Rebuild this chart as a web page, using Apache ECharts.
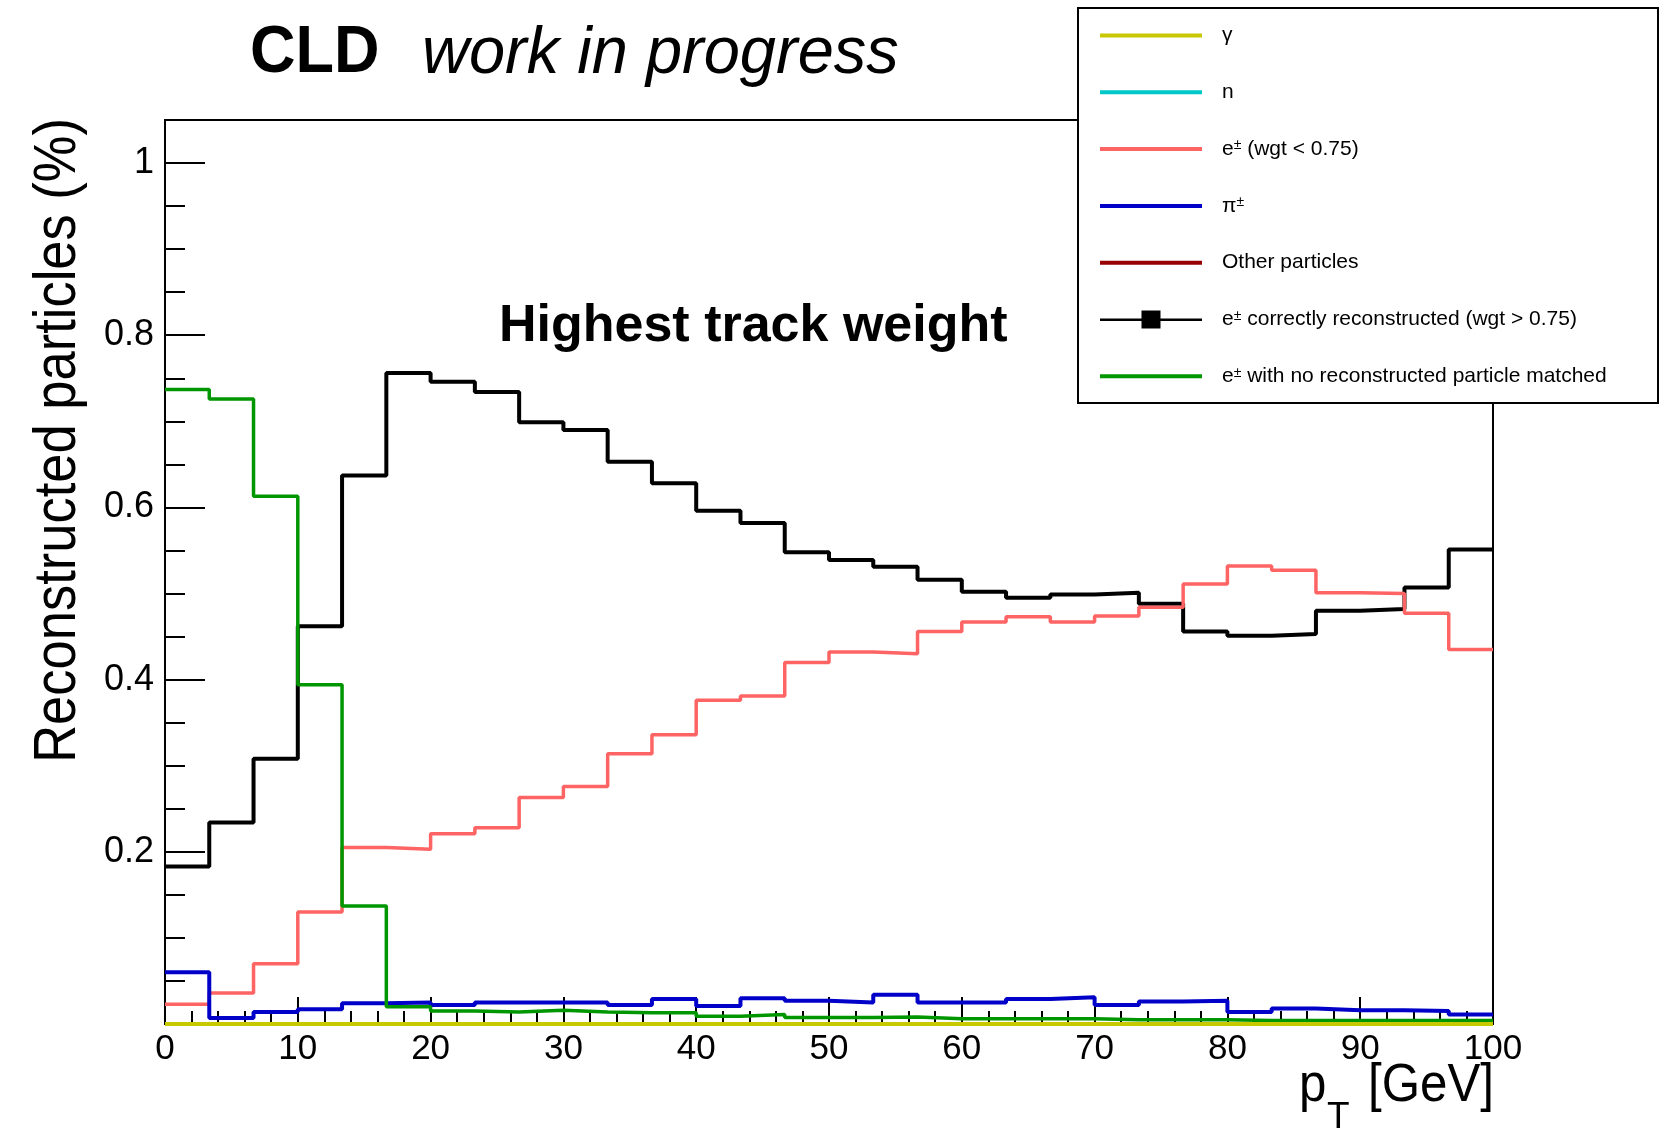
<!DOCTYPE html>
<html><head><meta charset="utf-8">
<script src="https://cdn.jsdelivr.net/npm/echarts@6/dist/echarts.min.js"></script>
<style>html,body{margin:0;padding:0;background:#fff}#c{width:1668px;height:1137px}</style>
</head><body><div id="c"></div>
<script>
// Bin edges in pT [GeV] (30 bins from 0 to 100)
const binEdges = [0, 3.333, 6.667, 10, 13.333, 16.667, 20, 23.333, 26.667, 30, 33.333, 36.667, 40, 43.333, 46.667, 50,
  53.333, 56.667, 60, 63.333, 66.667, 70, 73.333, 76.667, 80, 83.333, 86.667, 90, 93.333, 96.667, 100];
const xTicks = [0, 10, 20, 30, 40, 50, 60, 70, 80, 90, 100];
const yTickLabels = ['0.2', '0.4', '0.6', '0.8', '1'];

const gammaVals = [0,0,0,0,0,0,0,0,0,0,0,0,0,0,0,0,0,0,0,0,0,0,0,0,0,0,0,0,0,0];
const neutronVals = [0,0,0,0,0,0,0,0,0,0,0,0,0,0,0,0,0,0,0,0,0,0,0,0,0,0,0,0,0,0];
const eLowWgtVals = [0.023, 0.036, 0.070, 0.130, 0.205, 0.203, 0.221, 0.228, 0.263, 0.276, 0.314, 0.336, 0.376, 0.381, 0.420,
  0.432, 0.430, 0.456, 0.467, 0.473, 0.467, 0.474, 0.484, 0.511, 0.532, 0.527, 0.501, 0.500, 0.477, 0.435];
const pionVals = [0.060, 0.007, 0.014, 0.017, 0.024, 0.025, 0.022, 0.025, 0.025, 0.025, 0.022, 0.029, 0.021, 0.030, 0.027,
  0.025, 0.034, 0.025, 0.025, 0.029, 0.031, 0.022, 0.026, 0.027, 0.014, 0.018, 0.016, 0.016, 0.015, 0.011];
const otherVals = [0,0,0,0,0,0,0,0,0,0,0,0,0,0,0,0,0,0,0,0,0,0,0,0,0,0,0,0,0,0];
const eCorrectVals = [0.183, 0.234, 0.308, 0.462, 0.637, 0.756, 0.746, 0.734, 0.699, 0.690, 0.653, 0.628, 0.596, 0.582, 0.548,
  0.539, 0.531, 0.516, 0.502, 0.495, 0.499, 0.501, 0.488, 0.456, 0.451, 0.453, 0.480, 0.482, 0.507, 0.551];
const eNoMatchVals = [0.737, 0.726, 0.613, 0.394, 0.137, 0.020, 0.015, 0.014, 0.016, 0.014, 0.013, 0.013, 0.009, 0.011, 0.0075,
  0.0075, 0.008, 0.006, 0.006, 0.006, 0.006, 0.005, 0.005, 0.005, 0.004, 0.004, 0.004, 0.004, 0.004, 0.004];

const seriesNames = ['γ', 'n', 'e± (wgt < 0.75)', 'π±', 'Other particles',
  'e± correctly reconstructed (wgt > 0.75)', 'e± with no reconstructed particle matched'];
const seriesColors = ['#c8c800', '#00c8c8', '#ff6464', '#0000c8', '#960000', '#000000', '#009600'];
const seriesValues = [gammaVals, neutronVals, eLowWgtVals, pionVals, otherVals, eCorrectVals, eNoMatchVals];
const seriesWidths = [4, 4, 3.5, 4, 4, 4, 3.5];
const drawOrder = [5, 2, 3, 6, 1, 4, 0];

function hist(vals) {
  return binEdges.map((x, i) => [x, vals[Math.min(i, vals.length - 1)]]);
}

const lineIcon = 'path://M0,0L0,0M117,20L117,20M0,8L102,8L102,12L0,12Z';
const blackIcon = 'path://M0,0L0,0M117,20L117,20M0,9L41.5,9L41.5,1L60.5,1L60.5,9L102,9L102,11.5L60.5,11.5L60.5,19L41.5,19L41.5,11.5L0,11.5Z';

const SANS = '"Liberation Sans", Arial, sans-serif';

function txt(text, x, y, font, align, extra) {
  return Object.assign({ type: 'text', z: 10, x: x, y: y,
    style: { text: text, font: font, fill: '#000', textAlign: align, textVerticalAlign: 'middle', align: align, verticalAlign: 'middle' } }, extra || {});
}

const chart = echarts.init(document.getElementById('c'), null, { renderer: 'canvas' });
chart.setOption({
  animation: false,
  backgroundColor: '#ffffff',
  grid: { left: 165, top: 120, width: 1328, height: 904, show: true, borderColor: '#000', borderWidth: 2,
    backgroundColor: 'transparent', containLabel: false, outerBoundsMode: 'none' },
  xAxis: {
    type: 'value', min: 0, max: 100, interval: 10,
    axisLine: { lineStyle: { color: '#000', width: 2 } },
    axisTick: { inside: true, length: 27, lineStyle: { color: '#000', width: 2 } },
    minorTick: { show: true, splitNumber: 5, length: 13, lineStyle: { color: '#000', width: 2 } },
    axisLabel: { fontFamily: SANS, fontSize: 35, color: '#000', margin: 8,
      formatter: v => (xTicks.indexOf(v) >= 0 ? String(v) : '') },
    splitLine: { show: false }
  },
  yAxis: [
    {
      type: 'value', min: 0, max: 1.05, interval: 0.05, position: 'left',
      axisLine: { show: true, lineStyle: { color: '#000', width: 2 } },
      axisTick: { show: true, inside: true, length: 20, lineStyle: { color: '#000', width: 2 } },
      axisLabel: { show: false },
      splitLine: { show: false }
    },
    {
      type: 'value', min: 0, max: 1.05, interval: 0.2, position: 'left', offset: 0,
      axisLine: { show: false },
      axisTick: { show: true, inside: true, length: 40, lineStyle: { color: '#000', width: 2 } },
      axisLabel: { fontFamily: SANS, fontSize: 36, color: '#000', margin: 11,
        formatter: v => {
          const s = String(Math.round(v * 10) / 10);
          return yTickLabels.indexOf(s) >= 0 ? s : '';
        } },
      splitLine: { show: false }
    }
  ],
  legend: {
    orient: 'vertical', left: 1100, top: 25, itemWidth: 117, itemHeight: 20, itemGap: 35.8,
    padding: 0, z: 20, selectedMode: false,
    itemStyle: { borderWidth: 0 },
    textStyle: { fontFamily: SANS, fontSize: 21, color: '#000',
      rich: { s: { fontFamily: SANS, fontSize: 14, color: '#000', verticalAlign: 'top' } } },
    formatter: name => name.replace('±', '{s|±}'),
    data: seriesNames.map((n, i) => ({ name: n, icon: i === 5 ? blackIcon : lineIcon,
      itemStyle: { color: seriesColors[i], borderWidth: 0 } }))
  },
  graphic: [
    { type: 'rect', z: 10, shape: { x: 1078, y: 8, width: 580, height: 395 },
      style: { fill: '#fff', stroke: '#000', lineWidth: 2 } },
    txt('CLD', 250, 54, 'bold 67px ' + SANS, 'left', { scaleX: 0.94 }),
    txt('work in progress', 422, 54, 'italic 67px ' + SANS, 'left', { scaleX: 0.97 }),
    txt('Highest track weight', 499, 327, 'bold 52px ' + SANS, 'left'),
    txt('Reconstructed particles (%)', 58, 118, '60px ' + SANS, 'right', { rotation: Math.PI / 2, scaleX: 0.875 }),
    txt('[GeV]', 1494, 1086, '53px ' + SANS, 'right', { scaleX: 0.93 }),
    txt('p', 1299, 1086, '53px ' + SANS, 'left', { scaleX: 0.93 }),
    txt('T', 1327, 1118, '37px ' + SANS, 'left')
  ],
  series: drawOrder.map(i => ({
    name: seriesNames[i], type: 'line', step: 'end', symbol: 'none', showSymbol: false,
    xAxisIndex: 0, yAxisIndex: 0, silent: true,
    data: hist(seriesValues[i]),
    color: seriesColors[i],
    itemStyle: { color: seriesColors[i] },
    lineStyle: { color: seriesColors[i], width: seriesWidths[i] }
  }))
});
</script></body></html>
